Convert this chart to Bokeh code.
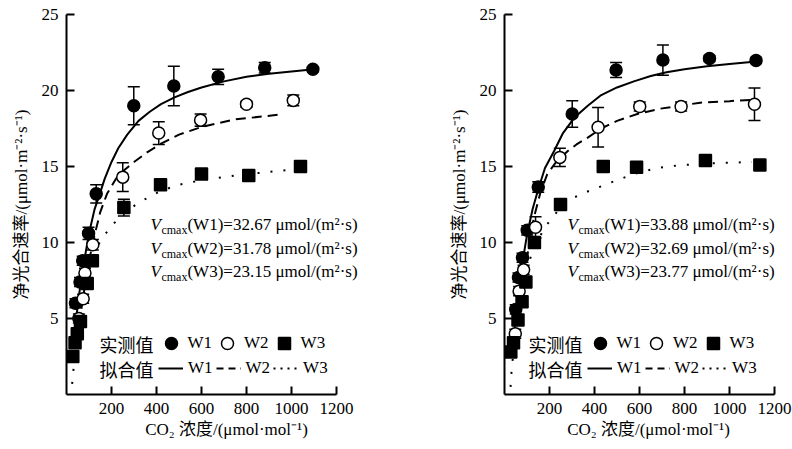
from bokeh.plotting import figure
from bokeh.models import (ColumnDataSource, Whisker, TeeHead, Range1d, FixedTicker,
                          Label, Legend, LegendItem)
from bokeh.layouts import row
from bokeh.embed import file_html
from bokeh.resources import INLINE

NAN = float("nan")

# ---------------- data (left panel) ----------------
L_W1_x = [40, 60, 72, 98, 132, 299, 477, 674, 881, 1095]
L_W1_y = [6.0, 7.4, 8.8, 10.6, 13.2, 19.0, 20.3, 20.9, 21.5, 21.4]
L_W1_e = [0.3, 0.3, 0.3, 0.4, 0.6, 1.25, 1.3, 0.5, 0.35, 0.15]

L_W2_x = [55, 74, 82, 117, 250, 410, 596, 800, 1008]
L_W2_y = [5.0, 6.3, 8.0, 9.85, 14.3, 17.2, 18.05, 19.1, 19.35]
L_W2_e = [0.3, 0.3, 0.3, 0.35, 0.95, 0.75, 0.4, 0.2, 0.35]

L_W3_x = [28, 38, 48, 62, 92, 115, 255, 418, 600, 810, 1040]
L_W3_y = [2.5, 3.4, 4.0, 4.8, 7.3, 8.8, 12.3, 13.8, 14.5, 14.4, 15.0]
L_W3_e = [0.3, 0.3, 0.3, 0.3, 0.3, 0.3, 0.55, 0.35, 0.2, 0.2, 0.15]

L_F1_x = [35, 50, 60, 70, 80, 100, 125, 150, 170, 200, 230, 270, 320, 370, 420, 480, 540, 600, 700, 800, 900, 1000, 1100]
L_F1_y = [4.0, 5.9, 7.0, 8.0, 8.9, 10.6, 12.2, 13.3, 14.2, 15.3, 16.2, 17.1, 18.0, 18.6, 19.1, 19.55, 19.9, 20.2, 20.6, 20.9, 21.1, 21.25, 21.4]
L_F2_x = [55, 70, 85, 100, 125, 150, 180, 220, 260, 300, 360, 420, 500, 600, 750, 940]
L_F2_y = [4.6, 6.0, 7.5, 8.8, 10.5, 12.0, 13.2, 14.2, 14.8, 15.3, 15.95, 16.5, 17.1, 17.6, 18.1, 18.4]
L_F3_x = [25, 32, 45, 60, 80, 100, 130, 170, 200, 260, 330, 420, 500, 600, 750, 900, 1040]
L_F3_y = [0.7, 1.8, 3.5, 5.2, 7.0, 8.3, 9.6, 10.5, 11.1, 12.0, 12.7, 13.4, 13.8, 14.1, 14.4, 14.65, 14.85]

L_VCMAX = ["32.67", "31.78", "23.15"]

# ---------------- data (right panel) ----------------
R_W1_x = [50, 62, 80, 101, 150, 301, 496, 704, 911, 1118]
R_W1_y = [5.6, 7.7, 9.0, 10.8, 13.65, 18.45, 21.35, 22.0, 22.1, 21.97]
R_W1_e = [0.3, 0.3, 0.3, 0.3, 0.35, 0.87, 0.5, 1.0, 0.2, 0.2]

R_W2_x = [48, 65, 85, 138, 246, 416, 601, 785, 1111]
R_W2_y = [4.0, 6.8, 8.2, 11.0, 15.6, 17.58, 18.95, 18.95, 19.1]
R_W2_e = [0.3, 0.3, 0.3, 0.7, 0.6, 1.3, 0.3, 0.3, 1.07]

R_W3_x = [28, 40, 60, 78, 95, 133, 249, 439, 587, 893, 1135]
R_W3_y = [2.8, 3.4, 4.9, 6.1, 7.4, 10.0, 12.5, 15.0, 14.95, 15.4, 15.1]
R_W3_e = [0.3, 0.3, 0.3, 0.3, 0.3, 0.3, 0.2, 0.2, 0.2, 0.2, 0.2]

R_F1_x = [35, 45, 60, 80, 100, 125, 150, 180, 220, 260, 310, 370, 430, 500, 575, 650, 720, 800, 900, 1000, 1120]
R_F1_y = [3.0, 4.3, 6.5, 8.7, 10.5, 12.2, 13.5, 14.9, 16.0, 17.2, 18.2, 19.0, 19.7, 20.2, 20.6, 20.95, 21.2, 21.4, 21.6, 21.75, 21.9]
R_F2_x = [45, 55, 70, 90, 110, 130, 160, 190, 230, 280, 320, 370, 430, 500, 590, 690, 780, 870, 1000, 1110]
R_F2_y = [2.5, 3.7, 6.0, 8.0, 10.0, 11.6, 13.3, 14.5, 15.3, 16.0, 16.45, 16.9, 17.5, 18.0, 18.45, 18.8, 19.0, 19.2, 19.3, 19.4]
R_F3_x = [27, 32, 45, 60, 80, 100, 120, 150, 180, 210, 250, 300, 360, 430, 500, 575, 650, 720, 800, 900, 1100]
R_F3_y = [0.5, 1.7, 3.5, 5.3, 7.0, 8.3, 9.2, 10.2, 11.0, 11.6, 12.3, 12.9, 13.3, 13.7, 14.1, 14.5, 14.8, 15.0, 15.1, 15.2, 15.3]

R_VCMAX = ["33.88", "32.69", "23.77"]

X_TICKS = [200, 400, 600, 800, 1000, 1200]
Y_TICKS = [5, 10, 15, 20, 25]
SERIES = ["W1", "W2", "W3"]
X_TITLE = "CO₂ 浓度/(μmol·mol⁻¹)"
Y_TITLE = "净光合速率/(μmol·m⁻²·s⁻¹)"
ROW_MEAS = "实测值"
ROW_FIT = "拟合值"

SERIF = "Liberation Serif"
CJK = "Noto Sans CJK SC"
MIX = "Liberation Serif, Noto Sans CJK SC"
PX_PER_UNIT = 0.225  # 200 units = 45 px


def panel(width, lb, rb, pts, fits, vcmax, txt_x, leg_x, rowlab_x):
    frame_w = width - lb - rb
    p = figure(width=width, height=449, x_range=Range1d(0, frame_w / PX_PER_UNIT),
               y_range=Range1d(0, 25),
               output_backend="svg", toolbar_location=None,
               min_border_left=lb, min_border_right=rb, min_border_top=14, min_border_bottom=55)
    p.outline_line_color = None
    p.xgrid.visible = False
    p.ygrid.visible = False
    p.background_fill_color = "white"
    p.border_fill_color = "white"
    for ax, ticks in ((p.xaxis, X_TICKS), (p.yaxis, Y_TICKS)):
        ax.ticker = FixedTicker(ticks=ticks)
        ax.axis_line_width = 2
        ax.axis_line_color = "black"
        ax.major_tick_line_width = 2
        ax.major_tick_line_color = "black"
        ax.major_tick_in = 8
        ax.major_tick_out = 0
        ax.minor_tick_line_color = None
        ax.major_label_text_font = SERIF
        ax.major_label_text_font_size = "17px"
        ax.major_label_text_color = "black"
        ax.axis_label_text_font = MIX
        ax.axis_label_text_font_size = "17px"
        ax.axis_label_text_font_style = "normal"
        ax.axis_label_text_color = "black"
    p.xaxis.bounds = (0, 1200)
    p.xaxis.major_label_standoff = 8
    p.yaxis.major_label_standoff = 8
    p.xaxis.axis_label = X_TITLE
    p.yaxis.axis_label = Y_TITLE
    p.xaxis.axis_label_standoff = 3
    p.yaxis.axis_label_standoff = 8

    # fitted curves
    dashes = ["solid", "10 6", "2 11"]
    for (fx, fy), d in zip(fits, dashes):
        p.line(fx, fy, line_color="black", line_width=2, line_dash=d)
    # legend proxies (a single NaN point, nothing drawn) with the finer legend dashes
    leg_dashes = ["solid", "7 5", "2 5"]
    line_r = [p.line([NAN], [NAN], line_color="black", line_width=2, line_dash=d)
              for d in leg_dashes]

    # error bars + points
    marker = [("circle", "black"), ("circle", "white"), ("square", "black")]
    pt_r = []
    for (x, y, e), (m, fc) in zip(pts, marker):
        src = ColumnDataSource(dict(x=x, y=y, lo=[a - b for a, b in zip(y, e)],
                                    hi=[a + b for a, b in zip(y, e)]))
        w = Whisker(source=src, base="x", upper="hi", lower="lo", dimension="height",
                    line_color="black", line_width=1.5,
                    upper_head=TeeHead(size=12, line_width=1.5, line_color="black"),
                    lower_head=TeeHead(size=12, line_width=1.5, line_color="black"))
        p.add_layout(w)
        r = p.scatter("x", "y", source=src, marker=m, size=12, fill_color=fc,
                      line_color="black", line_width=1.5)
        pt_r.append(r)

    # Vcmax annotations
    ys = [10.54, 9.01, 7.47]
    for s, v, yy in zip(SERIES, vcmax, ys):
        p.add_layout(Label(x=txt_x, y=yy, text="V", text_font=SERIF, text_font_style="italic",
                           text_font_size="17px", text_color="black"))
        p.add_layout(Label(x=txt_x, y=yy, x_offset=11, y_offset=-3, text="cmax", text_font=SERIF,
                           text_font_size="12px", text_color="black"))
        p.add_layout(Label(x=txt_x, y=yy, x_offset=37, text=f"({s})={v} μmol/(m²·s)",
                           text_font=SERIF, text_font_size="17px", text_color="black"))

    # "0" at the corner
    p.add_layout(Label(x=0, y=0, x_offset=-10, y_offset=-16.5, text="0", text_font=SERIF,
                       text_font_size="17px", text_align="center", text_baseline="middle",
                       text_color="black"))

    # legend rows
    p.add_layout(Label(x=rowlab_x, y=3.33, text=ROW_MEAS, text_font=CJK, text_font_size="18px",
                       text_baseline="middle", text_color="black"))
    p.add_layout(Label(x=rowlab_x, y=1.68, text=ROW_FIT, text_font=CJK, text_font_size="18px",
                       text_baseline="middle", text_color="black"))
    leg1 = Legend(items=[LegendItem(label=s, renderers=[r]) for s, r in zip(SERIES, pt_r)],
                  orientation="horizontal", location=(leg_x - 2.5, 36.5),
                  glyph_width=30, glyph_height=30, label_height=30, label_standoff=2, spacing=0,
                  padding=0, margin=0, border_line_alpha=0, background_fill_alpha=0,
                  label_text_font=SERIF, label_text_font_size="17px", label_text_color="black")
    leg2 = Legend(items=[LegendItem(label=s, renderers=[r]) for s, r in zip(SERIES, line_r)],
                  orientation="horizontal", location=(leg_x, 16.5),
                  glyph_width=25, glyph_height=18, label_height=18, label_standoff=5, spacing=3,
                  padding=0, margin=0, border_line_alpha=0, background_fill_alpha=0,
                  label_text_font=SERIF, label_text_font_size="17px", label_text_color="black")
    p.add_layout(leg1)
    p.add_layout(leg2)
    return p


left = panel(400, 66, 14,
             [(L_W1_x, L_W1_y, L_W1_e), (L_W2_x, L_W2_y, L_W2_e), (L_W3_x, L_W3_y, L_W3_e)],
             [(L_F1_x, L_F1_y), (L_F2_x, L_F2_y), (L_F3_x, L_F3_y)],
             L_VCMAX, 373, 92, 147)
right = panel(392, 104, 0,
              [(R_W1_x, R_W1_y, R_W1_e), (R_W2_x, R_W2_y, R_W2_e), (R_W3_x, R_W3_y, R_W3_e)],
              [(R_F1_x, R_F1_y), (R_F2_x, R_F2_y), (R_F3_x, R_F3_y)],
              R_VCMAX, 280, 83, 107)

layout = row(left, right, spacing=0)
open("out.html", "w").write(file_html(layout, INLINE))
